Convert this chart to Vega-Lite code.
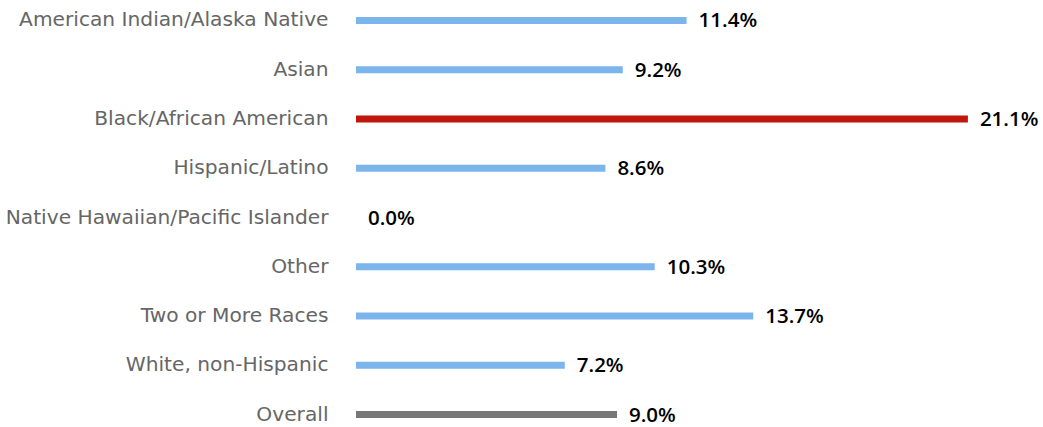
{
  "$schema": "https://vega.github.io/schema/vega-lite/v6.json",
  "width": 667,
  "height": 435,
  "autosize": "none",
  "padding": {"left": 356, "top": 0, "right": 20, "bottom": 0},
  "background": "white",
  "config": {"view": {"stroke": null}, "font": "DejaVu Sans"},
  "data": {
    "values": [
      {"group": "American Indian/Alaska Native", "rate": 0.114, "kind": "race"},
      {"group": "Asian", "rate": 0.092, "kind": "race"},
      {"group": "Black/African American", "rate": 0.211, "kind": "highlight"},
      {"group": "Hispanic/Latino", "rate": 0.086, "kind": "race"},
      {"group": "Native Hawaiian/Pacific Islander", "rate": 0.0, "kind": "race"},
      {"group": "Other", "rate": 0.103, "kind": "race"},
      {"group": "Two or More Races", "rate": 0.137, "kind": "race"},
      {"group": "White, non-Hispanic", "rate": 0.072, "kind": "race"},
      {"group": "Overall", "rate": 0.09, "kind": "overall"}
    ]
  },
  "encoding": {
    "y": {
      "field": "group",
      "type": "nominal",
      "sort": null,
      "scale": {"paddingInner": 0.5, "paddingOuter": 0.166},
      "axis": {
        "title": null,
        "ticks": false,
        "domain": false,
        "labelPadding": 28,
        "labelFontSize": 20.2,
        "labelColor": "#666666",
        "labelLimit": 400,
        "labelFont": "DejaVu Sans"
      }
    },
    "x": {
      "field": "rate",
      "type": "quantitative",
      "scale": {"domain": [0, 0.23], "nice": false},
      "axis": null
    }
  },
  "layer": [
    {
      "mark": {"type": "bar", "size": 7},
      "encoding": {
        "color": {
          "field": "kind",
          "type": "nominal",
          "scale": {"domain": ["race", "highlight", "overall"], "range": ["#7cb5ec", "#c0150a", "#777777"]},
          "legend": null
        }
      }
    },
    {
      "mark": {"type": "text", "align": "left", "baseline": "middle", "dx": 12, "dy": 1, "fontSize": 20.5, "fontWeight": 600, "font": "Open Sans", "color": "#000000"},
      "encoding": {
        "text": {"field": "rate", "type": "quantitative", "format": ".1%"}
      }
    }
  ]
}
